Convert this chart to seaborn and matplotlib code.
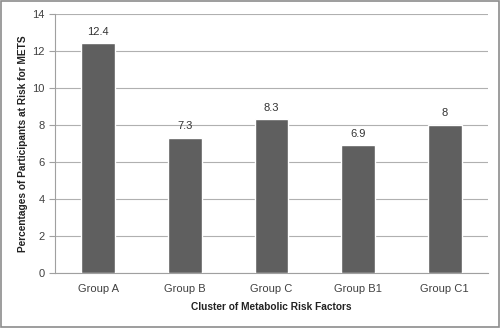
import numpy as np
import pandas as pd
import matplotlib
matplotlib.use('Agg')
import matplotlib.pyplot as plt
import seaborn as sns

# ------------------------------
# Data
# ------------------------------
groups = ['Group A', 'Group B', 'Group C', 'Group B1', 'Group C1']
percentages = [12.4, 7.3, 8.3, 6.9, 8]
value_labels = ['12.4', '7.3', '8.3', '6.9', '8']
y_ticks = [0, 2, 4, 6, 8, 10, 12, 14]

df = pd.DataFrame({'group': groups, 'pct': percentages})

sns.set_style('white')
plt.rcParams['font.family'] = ['Liberation Sans', 'DejaVu Sans']

fig = plt.figure(figsize=(5, 3.28), dpi=100)
ax = fig.add_axes([0.11, 0.168, 0.866, 0.79])

sns.barplot(data=df, x='group', y='pct', color='#5f5f5f', saturation=1,
            width=0.39, ax=ax, zorder=3)

for i, lab in enumerate(value_labels):
    ax.text(i, percentages[i] + 0.35, lab, ha='center', va='bottom',
            fontsize=8, color='#333333')

ax.set_ylim(0, 14)
ax.set_xlim(-0.5, len(groups) - 0.5)
ax.set_yticks(y_ticks)
ax.yaxis.grid(True, color='#b0b0b0', linewidth=0.8, zorder=0)
ax.set_axisbelow(True)

for s in ['top', 'right']:
    ax.spines[s].set_visible(False)
for s in ['left', 'bottom']:
    ax.spines[s].set_color('#a0a0a0')
    ax.spines[s].set_linewidth(0.8)

ax.tick_params(axis='x', which='major', length=0, labelsize=8,
               labelcolor='#404040', pad=8)
ax.set_xticks(np.arange(-0.5, len(groups), 1.0), minor=True)
ax.tick_params(axis='x', which='minor', length=4, color='#a0a0a0',
               direction='out')
ax.tick_params(axis='y', length=4, color='#a0a0a0', labelsize=8,
               labelcolor='#404040', direction='out', left=True)

ax.set_xlabel('Cluster of Metabolic Risk Factors', fontsize=7.3,
              fontweight='bold', color='#222222', labelpad=5.5)
ax.set_ylabel('Percentages of Participants at Risk for METS', fontsize=7.3,
              fontweight='bold', color='#222222', labelpad=3)

# border around the whole chart
fig.patches.append(plt.Rectangle((0.002, 0.003), 0.996, 0.994,
                                 transform=fig.transFigure, fill=False,
                                 edgecolor='#8c8c8c', linewidth=1.2))

fig.savefig('out.png', dpi=100)
